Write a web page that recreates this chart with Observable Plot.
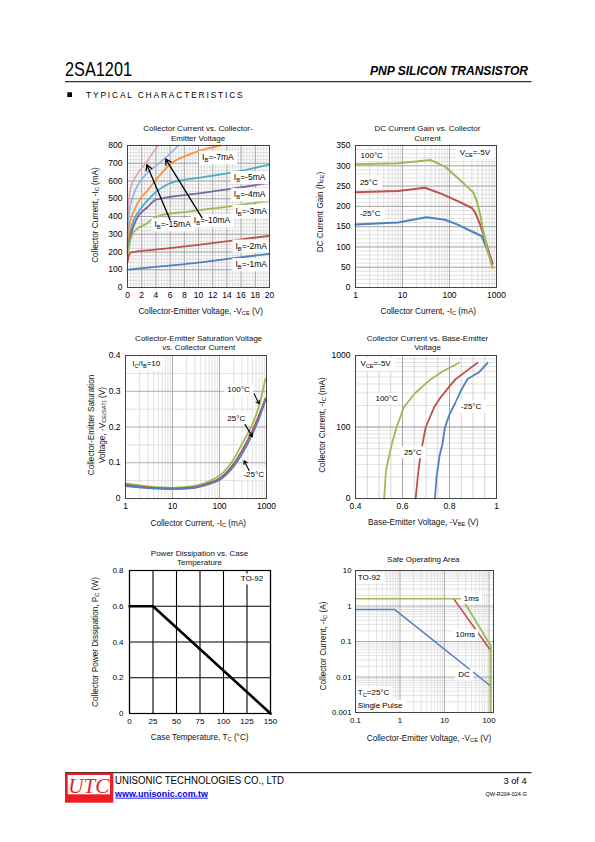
<!DOCTYPE html>
<html><head><meta charset="utf-8">
<script src="https://cdn.jsdelivr.net/npm/d3@7"></script>
<script src="https://cdn.jsdelivr.net/npm/@observablehq/plot@0.6"></script>
<style>
body{margin:0;background:#fff;}
#page{position:relative;width:595px;height:842px;overflow:hidden;background:#fff;font-family:"Liberation Sans",Arial,sans-serif;color:#000;}
.t{position:absolute;white-space:nowrap;font-size:8px;text-align:center;line-height:9.5px;transform:translateX(-50%);color:#111;}
.ax{position:absolute;white-space:nowrap;font-size:8.2px;transform:translate(-50%,-50%);color:#111;}
.ay{position:absolute;white-space:nowrap;font-size:8.2px;transform:translate(-50%,-50%) rotate(-90deg);text-align:center;line-height:11px;color:#111;}
sub{font-size:70%;vertical-align:-0.25em;line-height:0;}
</style></head>
<body><div id="page"></div>
<script>
const FONT = '"Liberation Sans", Arial, sans-serif';
const COL = {blue:'#4f81bd', red:'#c0504d', green:'#9bbb59', purple:'#8064a2', aqua:'#4bacc6', orange:'#f79646', lblue:'#8eb4e3', pink:'#e3a3a3'};

// ---------- Chart 1: Ic vs Vce ----------
const vceTicks1 = [0,2,4,6,8,10,12,14,16,18,20];
const icTicks1 = [0,100,200,300,400,500,600,700,800];
const ib1mA  = [[0,100],[5,120],[10,140],[15,165],[20,190]];
const ib2mA  = [[0,140],[0.2,180],[0.5,197],[1,201],[2,206],[5,218],[10,240],[15,265],[20,292]];
const ib3mA  = [[0,180],[0.3,250],[0.7,300],[1.5,335],[2.5,355],[3.5,385],[4.2,400],[5,410],[8,425],[12,445],[16,465],[20,490]];
const ib4mA  = [[0,190],[0.5,300],[1,360],[1.4,395],[2.8,452],[4,495],[5.2,505],[10,530],[15,558],[20,590]];
const ib5mA  = [[0,200],[0.5,330],[1,390],[1.64,433],[2.8,490],[4,537],[5.6,580],[7.5,603],[10,618],[15,650],[20,692]];
const ib7mA  = [[0,210],[0.3,360],[0.94,433],[1.8,500],[2.8,546],[4.7,640],[6.1,697],[8.9,753],[11,780],[13.1,800]];
const ib10mA = [[0,220],[0.15,400],[0.47,471],[1,540],[1.87,603],[2.8,645],[3.75,678],[5.48,734],[7.17,800]];
const ib15mA = [[0,230],[0.1,450],[0.47,565],[1.4,640],[2.67,706],[3.5,755],[4.3,800]];
const labels1 = [
  {x:10.5, y:734, t:"I_{B}=-7mA"},
  {x:14.97,y:621, t:"I_{B}=-5mA"},
  {x:14.97,y:524, t:"I_{B}=-4mA"},
  {x:15.2, y:430, t:"I_{B}=-3mA"},
  {x:15.2, y:235, t:"I_{B}=-2mA"},
  {x:15.2, y:130, t:"I_{B}=-1mA"},
  {x:3.8,  y:355, t:"I_{B}=-15mA"},
  {x:9.34, y:377, t:"I_{B}=-10mA"}
];
const arrows1 = [{x1:6.0,y1:380,x2:2.72,y2:691},{x1:10.5,y1:392,x2:5.39,y2:723}];

// ---------- Chart 2: hFE vs Ic ----------
const icTicks2 = [1,10,100,1000];
const hfeTicks = [0,50,100,150,200,250,300,350];
const hfe100 = [[1,304],[8,306],[40,314],[80,298],[150,270],[318,235],[378,214],[450,180],[522,140],[650,90],[820,48]];
const hfe25  = [[1,235],[8,238],[30,246],[70,230],[150,213],[300,196],[350,185],[450,155],[600,110],[820,58]];
const hfeM25 = [[1,155],[8,160],[32,173],[80,167],[150,155],[300,138],[480,127],[600,100],[700,80],[820,62]];
const labels2 = [
  {x:1.28,y:325,t:"100°C"},
  {x:1.24,y:260,t:"25°C"},
  {x:1.24,y:182,t:"-25°C"},
  {x:165, y:333,t:"V_{CE}=-5V"}
];

// ---------- Chart 3: Vce(sat) vs Ic ----------
const icTicks3 = [1,10,100,1000];
const vsatTicks = [0,0.1,0.2,0.3,0.4];
const vsat100 = [[1,0.042],[3,0.034],[10,0.03],[30,0.035],[60,0.048],[100,0.064],[200,0.11],[300,0.152],[500,0.208],[700,0.26],[950,0.335]];
const vsat25  = [[1,0.038],[3,0.031],[10,0.028],[30,0.032],[60,0.043],[100,0.056],[200,0.097],[300,0.134],[500,0.19],[700,0.235],[950,0.28]];
const vsatM25 = [[1,0.035],[3,0.029],[10,0.026],[30,0.03],[60,0.04],[100,0.052],[200,0.09],[300,0.124],[500,0.18],[700,0.225],[950,0.274]];
const labels3 = [
  {x:1.39,y:0.377,t:"I_{C}/I_{B}=10"},
  {x:147, y:0.304,t:"100°C"},
  {x:147, y:0.2226,t:"25°C"},
  {x:323, y:0.0664,t:"-25°C"}
];
const arrows3 = [
  {x1:545,y1:0.2927,x2:695,y2:0.2647},
  {x1:350,y1:0.2066,x2:502,y2:0.173},
  {x1:427,y1:0.078,x2:333,y2:0.1057}
];

// ---------- Chart 4: Ic vs Vbe ----------
const vbeTicks = [0.4,0.6,0.8,1];
const icTicks4 = [10,100,1000];
const icTickLabels4 = ["0","100","1000"];
const vbe100 = [[0.522,10],[0.53,25],[0.542,38],[0.556,60],[0.575,100],[0.606,190],[0.652,294],[0.713,446],[0.77,598],[0.841,790]];
const vbe25  = [[0.656,10],[0.665,20],[0.676,40],[0.688,65],[0.699,100],[0.735,190],[0.763,262],[0.8,370],[0.827,470],[0.87,600],[0.919,790]];
const vbeM25 = [[0.738,10],[0.745,20],[0.758,40],[0.77,58],[0.781,100],[0.8,150],[0.827,224],[0.85,330],[0.877,470],[0.9,520],[0.926,585],[0.962,790]];
const labels4 = [
  {x:0.421, y:766, t:"V_{CE}=-5V"},
  {x:0.485, y:248, t:"100°C"},
  {x:0.606, y:44.5,t:"25°C"},
  {x:0.848, y:194, t:"-25°C"}
];

// ---------- Chart 5: Pc vs Tc ----------
const tcTicks = [0,25,50,75,100,125,150];
const pcTicks = [0,0.2,0.4,0.6,0.8];
const pcDerating = [[0,0.6],[25,0.6],[150,0]];
const labels5 = [{x:142.2, y:0.753, t:"TO-92"}];

// ---------- Chart 6: SOA ----------
const vceTicks6 = [0.1,1,10,100];
const icTicks6 = [0.001,0.01,0.1,1,10];
const soaDC   = [[0.1,0.8],[0.75,0.8],[110,0.0055]];
const soa1ms  = [[0.1,1.6],[25,1.6],[110,0.075],[110,0.001]];
const soa10ms = [[16,1.6],[110,0.055]];
const labels6 = [
  {x:0.113,y:6.2,   t:"TO-92"},
  {x:27.2, y:1.66,  t:"1ms"},
  {x:17.7, y:0.155, t:"10ms"},
  {x:20.3, y:0.0115,t:"DC"},
  {x:0.113,y:0.0037,t:"T_{C}=25°C"},
  {x:0.113,y:0.00158,t:"Single Pulse"}
];

// ================= rendering =================
const page = document.getElementById('page');
const NS = 'http://www.w3.org/2000/svg';

function fixText(svg, padX, padY) {
  svg.querySelectorAll('text').forEach(t => {
    const s = t.textContent;
    if (!s.includes('_{')) return;
    const fs = parseFloat(getComputedStyle(t).fontSize) || 8;
    t.textContent = '';
    let shifted = false;
    for (const p of s.split(/(_\{[^}]*\})/)) {
      if (!p) continue;
      const ts = document.createElementNS(NS, 'tspan');
      if (p.startsWith('_{')) {
        ts.textContent = p.slice(2, -1);
        ts.setAttribute('font-size', fs * 0.7);
        ts.setAttribute('dy', fs * 0.25);
        shifted = true;
      } else {
        ts.textContent = p;
        if (shifted) { ts.setAttribute('dy', -fs * 0.25); shifted = false; }
      }
      t.appendChild(ts);
    }
  });
  svg.querySelectorAll('g[aria-description="boxed"] text').forEach(t => {
    const b = t.getBBox();
    const r = document.createElementNS(NS, 'rect');
    r.setAttribute('x', b.x - padX); r.setAttribute('y', b.y - padY);
    r.setAttribute('width', b.width + 2 * padX); r.setAttribute('height', b.height + 2 * padY);
    r.setAttribute('fill', '#fff'); r.setAttribute('stroke', 'none');
    const tr = t.getAttribute('transform'); if (tr) r.setAttribute('transform', tr);
    t.parentNode.insertBefore(r, t);
  });
}

function chart(frame, opts, tickFont, pad) {
  const ml = 40, mr = 14, mt = 10, mb = 24;
  const svg = Plot.plot({
    width: frame[2] - frame[0] + ml + mr,
    height: frame[3] - frame[1] + mt + mb,
    marginLeft: ml, marginRight: mr, marginTop: mt, marginBottom: mb,
    style: {fontFamily: FONT, fontSize: tickFont || '8.5px', background: 'transparent', overflow: 'visible', color: '#000'},
    ...opts
  });
  svg.style.position = 'absolute';
  svg.style.left = (frame[0] - ml) + 'px';
  svg.style.top = (frame[1] - mt) + 'px';
  page.appendChild(svg);
  fixText(svg, pad ? pad[0] : 3, pad ? pad[1] : 1);
  return svg;
}

const P = (pts, stroke, w, curve) => Plot.line(pts, {x: d => d[0], y: d => d[1], stroke, strokeWidth: w, curve: curve || 'linear'});
const boxedText = (data, fs, anchor) => Plot.text(data, {x: 'x', y: 'y', text: 't', textAnchor: anchor || 'start', fontSize: fs, fill: '#000', ariaDescription: 'boxed'});
const fmt = d => String(d);
function logMinor(lo, hi) {
  const a = [];
  for (let e = Math.floor(Math.log10(lo)); Math.pow(10, e) < hi; e++)
    for (let m = 2; m <= 9; m++) { const v = +(m * Math.pow(10, e)).toPrecision(6); if (v > lo && v < hi) a.push(v); }
  return a;
}

// Chart 1
chart([127,145,269,287], {
  x: {domain: [0, 20]}, y: {domain: [0, 800]},
  marks: [
    Plot.ruleX(d3.range(0, 20.001, 0.4), {stroke: '#cccccc', strokeWidth: 0.6}),
    Plot.ruleY(d3.range(0, 801, 20), {stroke: '#cccccc', strokeWidth: 0.6}),
    Plot.ruleX(vceTicks1, {stroke: '#999', strokeWidth: 0.8}),
    Plot.ruleY(icTicks1, {stroke: '#999', strokeWidth: 0.8}),
    P(ib15mA, COL.pink, 1.6, 'monotone-x'),
    P(ib10mA, COL.lblue, 1.6, 'monotone-x'),
    P(ib7mA, COL.orange, 1.8, 'monotone-x'),
    P(ib5mA, COL.aqua, 1.8, 'monotone-x'),
    P(ib4mA, COL.purple, 1.8, 'monotone-x'),
    P(ib3mA, COL.green, 1.8, 'monotone-x'),
    P(ib2mA, COL.red, 1.8, 'monotone-x'),
    P(ib1mA, COL.blue, 1.8, 'monotone-x'),
    boxedText(labels1, 8.5),
    Plot.arrow(arrows1, {x1: 'x1', y1: 'y1', x2: 'x2', y2: 'y2', stroke: '#000', strokeWidth: 1.3, headLength: 7}),
    Plot.frame({stroke: '#444'}),
    Plot.axisX({ticks: vceTicks1, tickSize: 0, tickPadding: 4, label: null, tickFormat: fmt}),
    Plot.axisY({ticks: icTicks1, tickSize: 0, tickPadding: 5, label: null, tickFormat: fmt})
  ]
});

// Chart 2
chart([355,145,496,287], {
  x: {type: 'log', domain: [1, 1000]}, y: {domain: [0, 350]},
  marks: [
    Plot.ruleX(logMinor(1, 1000), {stroke: '#cccccc', strokeWidth: 0.6}),
    Plot.ruleY(d3.range(0, 351, 10), {stroke: '#cccccc', strokeWidth: 0.6}),
    Plot.ruleX(icTicks2, {stroke: '#999', strokeWidth: 0.8}),
    Plot.ruleY(hfeTicks, {stroke: '#999', strokeWidth: 0.8}),
    P(hfeM25, COL.blue, 2),
    P(hfe25, COL.red, 2),
    P(hfe100, COL.green, 2),
    boxedText(labels2, 8),
    Plot.frame({stroke: '#444'}),
    Plot.axisX({ticks: icTicks2, tickSize: 0, tickPadding: 4, label: null, tickFormat: fmt}),
    Plot.axisY({ticks: hfeTicks, tickSize: 0, tickPadding: 5, label: null, tickFormat: fmt})
  ]
}, '8.5px', [4, 1]);

// Chart 3
chart([125,355,266,498], {
  x: {type: 'log', domain: [1, 1000]}, y: {domain: [0, 0.4]},
  marks: [
    Plot.ruleX(logMinor(1, 1000), {stroke: '#cccccc', strokeWidth: 0.6}),
    Plot.ruleY(d3.range(0.05, 0.4, 0.1), {stroke: '#cccccc', strokeWidth: 0.6}),
    Plot.ruleX(icTicks3, {stroke: '#999', strokeWidth: 0.8}),
    Plot.ruleY(vsatTicks, {stroke: '#999', strokeWidth: 0.8}),
    P(vsat100, COL.green, 1.8, 'monotone-x'),
    P(vsat25, COL.red, 1.8, 'monotone-x'),
    P(vsatM25, COL.blue, 1.8, 'monotone-x'),
    boxedText(labels3, 8),
    Plot.arrow(arrows3, {x1: 'x1', y1: 'y1', x2: 'x2', y2: 'y2', stroke: '#000', strokeWidth: 1.1, headLength: 5}),
    Plot.frame({stroke: '#444'}),
    Plot.axisX({ticks: icTicks3, tickSize: 0, tickPadding: 4, label: null, tickFormat: fmt}),
    Plot.axisY({ticks: vsatTicks, tickSize: 0, tickPadding: 5, label: null, tickFormat: fmt})
  ]
}, '8.5px', [3, 1]);

// Chart 4
chart([355,355,496,498], {
  x: {domain: [0.4, 1]}, y: {type: 'log', domain: [10, 1000]},
  marks: [
    Plot.ruleX(d3.range(0.45, 1, 0.05), {stroke: '#c4c4c4', strokeWidth: 0.7}),
    Plot.ruleY(logMinor(10, 1000), {stroke: '#cccccc', strokeWidth: 0.6}),
    Plot.ruleX(vbeTicks, {stroke: '#999', strokeWidth: 0.8}),
    Plot.ruleY(icTicks4, {stroke: '#888', strokeWidth: 0.9}),
    P(vbe100, COL.green, 1.8),
    P(vbe25, COL.red, 1.8),
    P(vbeM25, COL.blue, 1.8),
    boxedText(labels4, 8),
    Plot.frame({stroke: '#444'}),
    Plot.axisX({ticks: vbeTicks, tickSize: 0, tickPadding: 4, label: null, tickFormat: fmt}),
    Plot.axisY({ticks: icTicks4, tickSize: 0, tickPadding: 5, label: null,
                tickFormat: d => icTickLabels4[icTicks4.findIndex(v => Math.abs(v - d) < 1e-6 * v)]})
  ]
}, '8.5px', [4, 1.5]);

// Chart 5
chart([129,570,270,713], {
  x: {domain: [0, 150]}, y: {domain: [0, 0.8]},
  marks: [
    Plot.ruleX(tcTicks, {stroke: '#000', strokeWidth: 1.1}),
    Plot.ruleY(pcTicks, {stroke: '#000', strokeWidth: 1.1}),
    P(pcDerating, '#000', 2.6),
    boxedText(labels5, 8, 'end'),
    Plot.frame({stroke: '#000', strokeWidth: 1.2}),
    Plot.axisX({ticks: tcTicks, tickSize: 0, tickPadding: 5, label: null, tickFormat: fmt}),
    Plot.axisY({ticks: pcTicks, tickSize: 0, tickPadding: 6, label: null, tickFormat: fmt})
  ]
}, '8px', [3, 1]);

// Chart 6
chart([355,570,493,712], {
  x: {type: 'log', domain: [0.1, 126]}, y: {type: 'log', domain: [0.001, 10]},
  marks: [
    Plot.ruleX(logMinor(0.1, 126), {stroke: '#d2d2d2', strokeWidth: 0.6}),
    Plot.ruleY(logMinor(0.001, 10), {stroke: '#d2d2d2', strokeWidth: 0.6}),
    Plot.ruleX(vceTicks6, {stroke: '#999', strokeWidth: 0.8}),
    Plot.ruleY(icTicks6, {stroke: '#999', strokeWidth: 0.8}),
    P(soaDC, COL.blue, 1.5),
    P(soa10ms, COL.red, 1.5),
    P(soa1ms, COL.green, 1.7),
    boxedText(labels6, 8),
    Plot.frame({stroke: '#444'}),
    Plot.axisX({ticks: vceTicks6, tickSize: 0, tickPadding: 5, label: null, tickFormat: fmt}),
    Plot.axisY({ticks: icTicks6, tickSize: 0, tickPadding: 4, label: null, tickFormat: fmt})
  ]
}, '7.8px', [3, 1]);

// ---------- HTML text: titles and axis labels ----------
function div(cls, html, x, y) {
  const d = document.createElement('div');
  d.className = cls; d.innerHTML = html;
  d.style.left = x + 'px'; d.style.top = y + 'px';
  page.appendChild(d); return d;
}
div('t', 'Collector Current vs. Collector-<br>Emitter Voltage', 198, 124.3);
div('t', 'DC Current Gain vs. Collector<br>Current', 427.5, 124.3);
div('t', 'Collector-Emitter Saturation Voltage<br>vs. Collector Current', 198.7, 333.5);
div('t', 'Collector Current vs. Base-Emitter<br>Voltage', 427.5, 333.5);
div('t', 'Power Dissipation vs. Case<br>Temperature', 199.5, 548.8);
div('t', 'Safe Operating Area', 423.3, 555.3);

div('ax', 'Collector-Emitter Voltage, -V<sub>CE</sub> (V)', 200.7, 310.7);
div('ax', 'Collector Current, -I<sub>C</sub> (mA)', 428.3, 310.7);
div('ax', 'Collector Current, -I<sub>C</sub> (mA)', 198.3, 522.7);
div('ax', 'Base-Emitter Voltage, -V<sub>BE</sub> (V)', 423.3, 521.7);
div('ax', 'Case Temperature, T<sub>C</sub> (°C)', 199.7, 736.7);
div('ax', 'Collector-Emitter Voltage, -V<sub>CE</sub> (V)', 429, 737.7);

div('ay', 'Collector Current, -I<sub>C</sub> (mA)', 95, 215.3);
div('ay', 'DC Current Gain (h<sub>FE</sub>)', 320, 212.3);
div('ay', 'Collector-Emitter Saturation<br>Voltage, -V<sub>CE(SAT)</sub> (V)', 97.2, 425);
div('ay', 'Collector Current, -I<sub>C</sub> (mA)', 321.7, 425.3);
div('ay', 'Collector Power Dissipation, P<sub>C</sub> (W)', 95, 641.7);
div('ay', 'Collector Current, -I<sub>C</sub> (A)', 323.3, 645.8);

// ---------- header & footer ----------
const hf = document.createElementNS(NS, 'svg');
hf.setAttribute('width', 595); hf.setAttribute('height', 842);
hf.style.position = 'absolute'; hf.style.left = '0'; hf.style.top = '0'; hf.style.pointerEvents = 'none';
hf.innerHTML = `
<g font-family='"Liberation Sans", Arial, sans-serif' fill="#000">
  <text x="65" y="76" font-size="20" textLength="67" lengthAdjust="spacingAndGlyphs" font-family='"Liberation Sans Narrow", "Liberation Sans", Arial, sans-serif'>2SA1201</text>
  <text x="528" y="75.3" font-size="12" font-weight="bold" font-style="italic" text-anchor="end" textLength="158" lengthAdjust="spacingAndGlyphs">PNP SILICON TRANSISTOR</text>
  <line x1="65" x2="531.5" y1="81.7" y2="81.7" stroke="#000" stroke-width="1"/>
  <rect x="67.3" y="92.3" width="4.7" height="4.7" fill="#000"/>
  <text x="86" y="97.7" font-size="8.4" textLength="156.7">TYPICAL CHARACTERISTICS</text>
  <line x1="65" x2="531.5" y1="772.7" y2="772.7" stroke="#000" stroke-width="1"/>
  <rect x="65" y="772.7" width="48.3" height="30" fill="#ed1c24"/>
  <rect x="67.7" y="775" width="42.3" height="19.3" fill="#fff"/>
  <text x="68.3" y="792.5" font-size="20" font-style="italic" font-family='"Liberation Serif", "Times New Roman", serif' fill="#ed1c24" textLength="41" lengthAdjust="spacingAndGlyphs">UTC</text>
  <text x="115" y="784" font-size="10" textLength="169" lengthAdjust="spacingAndGlyphs">UNISONIC TECHNOLOGIES CO., LTD</text>
  <text x="115" y="796.7" font-size="9" font-weight="bold" fill="#0000ee" text-decoration="underline" textLength="93" lengthAdjust="spacingAndGlyphs">www.unisonic.com.tw</text>
  <text x="526.7" y="784" font-size="9.3" text-anchor="end">3 of 4</text>
  <text x="526.7" y="796" font-size="5.5" text-anchor="end">QW-R204-024.G</text>
</g>`;
page.appendChild(hf);
</script>
</body></html>
